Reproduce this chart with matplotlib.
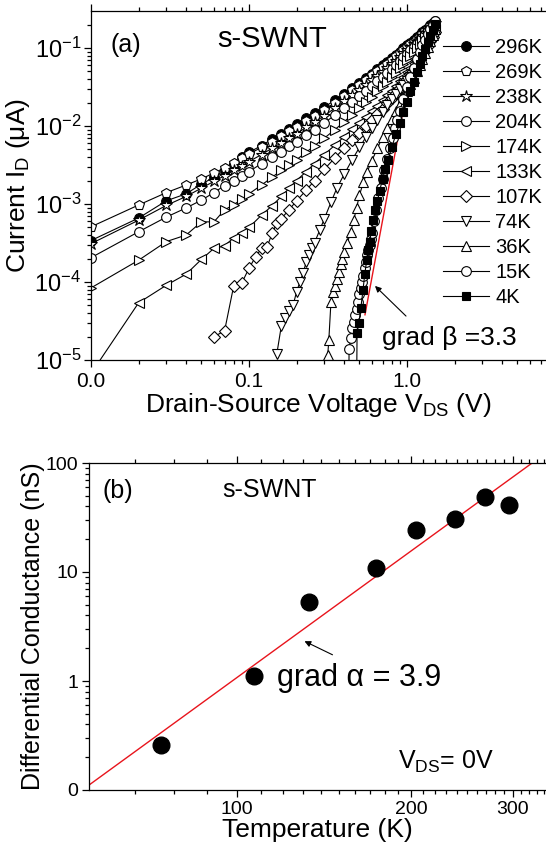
import matplotlib
matplotlib.use("Agg")
import matplotlib.pyplot as plt
from matplotlib.ticker import FixedLocator, FixedFormatter, LogLocator, NullFormatter
import numpy as np

plt.rcParams['font.family'] = ['Liberation Sans', 'DejaVu Sans']
plt.rcParams['mathtext.fontset'] = 'custom'
plt.rcParams['mathtext.rm'] = 'Liberation Sans'
plt.rcParams['mathtext.it'] = 'Liberation Sans:italic'
plt.rcParams['mathtext.default'] = 'rm'

# ---- panel (a): I-V curves, current in uA ----
v_hi = [0.01, 0.02, 0.03, 0.04, 0.05, 0.06, 0.07, 0.08, 0.09, 0.10, 0.12, 0.14, 0.16, 0.18,
        0.20, 0.23, 0.26, 0.30, 0.35, 0.40, 0.45, 0.50, 0.55, 0.60, 0.65, 0.70, 0.75, 0.80,
        0.85, 0.90, 0.95, 1.00, 1.05, 1.10, 1.15, 1.20, 1.25, 1.30, 1.35, 1.40, 1.45, 1.50]

i_296 = [3.4e-4, 6.6e-4, 1.1e-3, 1.35e-3, 1.8e-3, 2.2e-3, 2.7e-3, 3.3e-3, 4.0e-3, 4.6e-3, 5.6e-3,
         6.8e-3, 8.0e-3, 9.2e-3, 1.05e-2, 1.25e-2, 1.45e-2, 1.75e-2, 2.15e-2, 2.6e-2, 3.1e-2,
         3.6e-2, 4.15e-2, 4.7e-2, 5.3e-2, 6.0e-2, 6.7e-2, 7.4e-2, 8.2e-2, 9.0e-2, 9.9e-2, 0.108,
         0.117, 0.127, 0.137, 0.148, 0.159, 0.171, 0.183, 0.196, 0.21, 0.225]
i_269 = [5.1e-4, 9.7e-4, 1.4e-3, 1.75e-3, 2.1e-3, 2.5e-3, 2.9e-3, 3.4e-3, 3.9e-3, 4.4e-3, 5.3e-3,
         6.3e-3, 7.4e-3, 8.5e-3, 9.7e-3, 1.15e-2, 1.35e-2, 1.62e-2, 2.0e-2, 2.45e-2, 2.9e-2,
         3.4e-2, 3.9e-2, 4.45e-2, 5.0e-2, 5.65e-2, 6.3e-2, 7.0e-2, 7.8e-2, 8.6e-2, 9.4e-2, 0.103,
         0.112, 0.121, 0.131, 0.142, 0.153, 0.165, 0.177, 0.19, 0.204, 0.218]
i_238 = [3.1e-4, 6.2e-4, 9.6e-4, 1.25e-3, 1.6e-3, 1.95e-3, 2.3e-3, 2.7e-3, 3.1e-3, 3.5e-3, 4.3e-3,
         5.2e-3, 6.1e-3, 7.0e-3, 8.0e-3, 9.6e-3, 1.12e-2, 1.36e-2, 1.7e-2, 2.07e-2, 2.47e-2,
         2.9e-2, 3.36e-2, 3.85e-2, 4.4e-2, 4.95e-2, 5.55e-2, 6.2e-2, 6.9e-2, 7.7e-2, 8.5e-2, 9.3e-2,
         0.102, 0.111, 0.121, 0.132, 0.143, 0.155, 0.168, 0.181, 0.195, 0.21]
i_204 = [2.05e-4, 4.4e-4, 6.8e-4, 8.9e-4, 1.12e-3, 1.4e-3, 1.72e-3, 2.0e-3, 2.3e-3, 2.6e-3, 3.3e-3,
         4.0e-3, 4.7e-3, 5.5e-3, 6.3e-3, 7.6e-3, 9.0e-3, 1.1e-2, 1.38e-2, 1.7e-2, 2.05e-2,
         2.42e-2, 2.83e-2, 3.27e-2, 3.75e-2, 4.27e-2, 4.83e-2, 5.45e-2, 6.1e-2, 6.8e-2, 7.6e-2,
         8.4e-2, 9.3e-2, 0.102, 0.112, 0.123, 0.135, 0.148, 0.162, 0.176, 0.191, 0.207]
i_174 = [8.4e-5, 1.9e-4, 3.3e-4, 4.0e-4, 5.9e-4, 5.9e-4, 8.4e-4, 9.8e-4, 1.15e-3, 1.35e-3, 1.75e-3,
         2.2e-3, 2.7e-3, 3.2e-3, 3.7e-3, 4.6e-3, 5.6e-3, 7.0e-3, 9.0e-3, 1.13e-2, 1.4e-2,
         1.7e-2, 2.02e-2, 2.38e-2, 2.78e-2, 3.22e-2, 3.7e-2, 4.25e-2, 4.85e-2, 5.5e-2, 6.2e-2,
         7.0e-2, 7.9e-2, 8.9e-2, 0.1, 0.112, 0.125, 0.139, 0.154, 0.17, 0.187, 0.205]
i_133 = [6.7e-6, 5.4e-5, 9.1e-5, 1.26e-4, 1.95e-4, 2.7e-4, 2.9e-4, 3.7e-4, 4.3e-4, 5.0e-4, 7.2e-4,
         9.5e-4, 1.25e-3, 1.6e-3, 2.0e-3, 2.6e-3, 3.3e-3, 4.3e-3, 5.7e-3, 7.3e-3, 9.1e-3,
         1.1e-2, 1.32e-2, 1.56e-2, 1.83e-2, 2.13e-2, 2.47e-2, 2.85e-2, 3.28e-2, 3.76e-2, 4.3e-2,
         4.9e-2, 5.6e-2, 6.4e-2, 7.3e-2, 8.3e-2, 9.4e-2, 0.107, 0.121, 0.137, 0.155, 0.175]

v_107 = [0.06, 0.07, 0.08, 0.09, 0.10, 0.11, 0.12, 0.13, 0.14, 0.15, 0.16, 0.18, 0.20, 0.23,
         0.26, 0.30, 0.35, 0.40, 0.45, 0.50, 0.55, 0.60, 0.65, 0.70, 0.75, 0.80, 0.85, 0.90,
         0.95, 1.00, 1.05, 1.10, 1.15, 1.20, 1.25, 1.30, 1.35, 1.40, 1.45, 1.50]
i_107 = [2.0e-5, 2.35e-5, 8.9e-5, 9.7e-5, 1.5e-4, 2.1e-4, 2.7e-4, 2.8e-4, 4.2e-4, 5.7e-4, 6.5e-4,
         8.5e-4, 1.1e-3, 1.5e-3, 2.0e-3, 2.8e-3, 3.9e-3, 5.2e-3, 6.6e-3, 8.2e-3, 1.0e-2, 1.2e-2,
         1.42e-2, 1.67e-2, 1.95e-2, 2.27e-2, 2.63e-2, 3.03e-2, 3.5e-2, 4.0e-2, 4.6e-2, 5.3e-2,
         6.1e-2, 7.0e-2, 8.0e-2, 9.2e-2, 0.106, 0.122, 0.14, 0.16]

v_74 = [0.15, 0.16, 0.17, 0.18, 0.19, 0.20, 0.21, 0.22, 0.23, 0.24, 0.25, 0.26, 0.28, 0.30,
        0.33, 0.36, 0.40, 0.45, 0.50, 0.55, 0.60, 0.65, 0.70, 0.75, 0.80, 0.85, 0.90, 0.95,
        1.00, 1.05, 1.10, 1.15, 1.20, 1.25, 1.30, 1.35, 1.40, 1.45, 1.50]
i_74 = [1.2e-5, 2.7e-5, 3.5e-5, 4.2e-5, 5.0e-5, 7.5e-5, 1.0e-4, 1.3e-4, 1.8e-4, 2.2e-4, 2.7e-4,
        3.2e-4, 4.6e-4, 6.5e-4, 1.05e-3, 1.6e-3, 2.4e-3, 3.7e-3, 5.3e-3, 7.2e-3, 9.5e-3, 1.2e-2,
        1.5e-2, 1.85e-2, 2.2e-2, 2.6e-2, 3.0e-2, 3.4e-2, 3.8e-2, 4.3e-2, 4.8e-2, 5.8e-2, 7.0e-2,
        8.4e-2, 0.1, 0.118, 0.14, 0.165, 0.19]

v_36 = [0.31, 0.315, 0.32, 0.33, 0.34, 0.35, 0.36, 0.37, 0.38, 0.39, 0.40, 0.42, 0.44, 0.46,
        0.48, 0.50, 0.53, 0.56, 0.60, 0.65, 0.70, 0.75, 0.80, 0.85, 0.90, 0.95, 1.00, 1.05,
        1.10, 1.15, 1.20, 1.25, 1.30, 1.35, 1.40, 1.45, 1.50]
i_36 = [5e-6, 1.16e-5, 1.8e-5, 5.5e-5, 7.5e-5, 9e-5, 1.1e-4, 1.35e-4, 1.7e-4, 2.0e-4, 2.4e-4,
        3.2e-4, 4.4e-4, 6.2e-4, 9e-4, 1.3e-3, 1.9e-3, 2.6e-3, 3.6e-3, 5.2e-3, 7.2e-3, 9.5e-3,
        1.23e-2, 1.55e-2, 1.92e-2, 2.35e-2, 2.85e-2, 3.45e-2, 4.15e-2, 5.0e-2, 6.0e-2, 7.2e-2,
        8.6e-2, 0.103, 0.123, 0.147, 0.175]

v_15 = [0.428, 0.43, 0.44, 0.45, 0.46, 0.47, 0.48, 0.49, 0.50, 0.51, 0.52, 0.53, 0.54, 0.55,
        0.56, 0.57, 0.58, 0.59, 0.60, 0.62, 0.64, 0.66, 0.68, 0.70, 0.72, 0.75, 0.78, 0.81,
        0.84, 0.87, 0.90, 0.95, 1.00, 1.05, 1.10, 1.15, 1.20, 1.25, 1.30, 1.35, 1.40, 1.45, 1.50]
i_15 = [5e-6, 1.38e-5, 1.9e-5, 2.6e-5, 3.1e-5, 3.8e-5, 4.5e-5, 5.5e-5, 7e-5, 8.5e-5, 1.0e-4,
        1.2e-4, 1.5e-4, 1.8e-4, 2.2e-4, 2.6e-4, 3.0e-4, 3.6e-4, 4.2e-4, 6e-4, 8.5e-4, 1.2e-3,
        1.6e-3, 2.1e-3, 2.7e-3, 3.8e-3, 5.2e-3, 7.0e-3, 9.3e-3, 1.2e-2, 1.55e-2, 2.25e-2, 3.2e-2,
        4.3e-2, 5.6e-2, 7.2e-2, 9.0e-2, 0.108, 0.128, 0.15, 0.175, 0.2, 0.225]

v_4 = [0.48, 0.483, 0.496, 0.51, 0.527, 0.54, 0.556, 0.57, 0.58, 0.595, 0.61, 0.63, 0.65, 0.67,
       0.70, 0.73, 0.76, 0.80, 0.85, 0.90, 0.95, 1.00, 1.05, 1.10, 1.15, 1.20, 1.25, 1.30, 1.35,
       1.40, 1.45, 1.50]
i_4 = [5e-6, 2.2e-5, 3.0e-5, 4.6e-5, 8.0e-5, 1.25e-4, 1.9e-4, 2.6e-4, 3.3e-4, 4.5e-4, 6.2e-4,
       8.5e-4, 1.1e-3, 1.45e-3, 2.1e-3, 2.8e-3, 3.7e-3, 5.3e-3, 7.8e-3, 1.1e-2, 1.5e-2, 2.05e-2,
       2.8e-2, 3.7e-2, 4.9e-2, 6.3e-2, 7.9e-2, 9.7e-2, 0.118, 0.143, 0.172, 0.205]

labels_a = ['296K', '269K', '238K', '204K', '174K', '133K', '107K', '74K', '36K', '15K', '4K']
curves_v = [v_hi, v_hi, v_hi, v_hi, v_hi, v_hi, v_107, v_74, v_36, v_15, v_4]
curves_i = [i_296, i_269, i_238, i_204, i_174, i_133, i_107, i_74, i_36, i_15, i_4]
markers = ['o', 'p', '*', 'o', '>', '<', 'D', 'v', '^', 'o', 's']
filled = [True, False, False, False, False, False, False, False, False, False, True]

# fit line beta = 3.3 (two end points in data units)
beta_v = [0.542, 0.95]
beta_i = [3.8e-5, 1.7e-2]

# ---- panel (b): differential conductance ----
temps = [74, 107, 133, 174, 204, 238, 269, 296]
cond = [0.26, 1.1, 5.3, 10.9, 24.3, 30.6, 48.7, 41.2]
alpha_t = [55.5, 324]
alpha_g = [0.111, 100]

W, H = 546, 851
fig = plt.figure(figsize=(W / 100, H / 100), dpi=100)


def fx(px):
    return px / W


def fy(py):
    return 1 - py / H


ax1 = fig.add_axes([fx(91), fy(360), fx(546 - 91), 349 / H])
ax2 = fig.add_axes([fx(89), fy(790), fx(546 - 89), 327 / H])

ax1.plot(beta_v, beta_i, color='#e8141c', lw=1.0, zorder=1)
for v, i, m, f, lab in zip(curves_v, curves_i, markers, filled, labels_a):
    ms = 9 if m == '*' else (6 if m == 'D' else 7)
    if lab == '4K':
        ms = 5.5
    ax1.plot(v, i, marker=m, color='black', lw=0.8, ms=ms, mew=0.8,
             mfc='black' if f else 'white', label=lab, zorder=2)

ax1.set_xscale('log')
ax1.set_yscale('log')
ax1.set_xlim(0.01, 7.58)
ax1.set_ylim(1e-5, 0.298)
ax1.xaxis.set_major_locator(FixedLocator([0.01, 0.1, 1.0]))
ax1.xaxis.set_major_formatter(FixedFormatter(['0.0', '0.1', '1.0']))
ax1.xaxis.set_minor_locator(LogLocator(base=10, subs=np.arange(2, 10)))
ax1.xaxis.set_minor_formatter(NullFormatter())
ax1.yaxis.set_minor_locator(LogLocator(base=10, subs=np.arange(2, 10)))
ax1.yaxis.set_minor_formatter(NullFormatter())
ax1.spines['right'].set_visible(False)
ax1.tick_params(which='both', direction='out', top=True, right=False, width=0.9)
ax1.tick_params(which='major', length=5)
ax1.tick_params(which='minor', length=3)
ax1.tick_params(axis='x', labelsize=15, pad=4)
ax1.tick_params(axis='y', labelsize=17, pad=2)
ax1.set_xlabel('Drain-Source Voltage V$_{\\rm DS}$ (V)', fontsize=19, labelpad=0)
ax1.set_ylabel('Current I$_{\\rm D}$ (\u03bcA)', fontsize=19, labelpad=2)

leg = ax1.legend(loc='upper left', bbox_to_anchor=(0.7554, 0.947), frameon=False,
                 fontsize=14.5, handlelength=2.3, handletextpad=0.3, labelspacing=0.3,
                 borderaxespad=0, borderpad=0.4)

ax1.annotate('', xy=(fx(373), fy(284)), xytext=(fx(408), fy(318)), xycoords='figure fraction',
             arrowprops=dict(arrowstyle='-|>', color='black', lw=0.8, mutation_scale=9))
fig.text(fx(110), fy(52), '(a)', fontsize=18)
fig.text(fx(217), fy(47), 's-SWNT', fontsize=21)
fig.text(fx(382), fy(345), 'grad \u03b2 =3.3', fontsize=19)

ax2.plot(alpha_t, alpha_g, color='#e8141c', lw=1.0, zorder=1)
ax2.plot(temps, cond, 'o', color='black', ms=12, zorder=2)
ax2.set_xscale('log')
ax2.set_yscale('log')
ax2.set_xlim(55.5, 342.4)
ax2.set_ylim(0.1, 100)
ax2.xaxis.set_major_locator(FixedLocator([100, 200, 300]))
ax2.xaxis.set_major_formatter(FixedFormatter(['100', '200', '300']))
ax2.xaxis.set_minor_locator(FixedLocator([66.7, 77.8, 88.9] + list(range(110, 200, 10))
                                         + list(range(210, 300, 10)) + [310, 320, 330, 340]))
ax2.xaxis.set_minor_formatter(NullFormatter())
ax2.yaxis.set_major_locator(FixedLocator([0.1, 1, 10, 100]))
ax2.yaxis.set_major_formatter(FixedFormatter(['0', '1', '10', '100']))
ax2.yaxis.set_minor_locator(LogLocator(base=10, subs=np.arange(2, 10)))
ax2.yaxis.set_minor_formatter(NullFormatter())
ax2.spines['right'].set_visible(False)
ax2.tick_params(which='both', direction='out', top=True, right=False, width=0.9)
ax2.tick_params(which='major', length=5)
ax2.tick_params(which='minor', length=3)
ax2.tick_params(labelsize=14, pad=3)
ax2.set_xlabel('Temperature (K)', fontsize=19, labelpad=0)
ax2.set_ylabel('Differential Conductance (nS)', fontsize=18, labelpad=0)

ax2.annotate('', xy=(fx(302), fy(640)), xytext=(fx(335), fy(656)), xycoords='figure fraction',
             arrowprops=dict(arrowstyle='-|>', color='black', lw=0.8, mutation_scale=9))
fig.text(fx(102), fy(498), '(b)', fontsize=18)
fig.text(fx(222), fy(497), 's-SWNT', fontsize=18)
fig.text(fx(277), fy(686), 'grad \u03b1 = 3.9', fontsize=22)
fig.text(fx(398), fy(769), 'V$_{\\rm DS}$= 0V', fontsize=18)

for ax in (ax1, ax2):
    for s in ax.spines.values():
        s.set_linewidth(0.9)

fig.savefig('out.png', dpi=100)
